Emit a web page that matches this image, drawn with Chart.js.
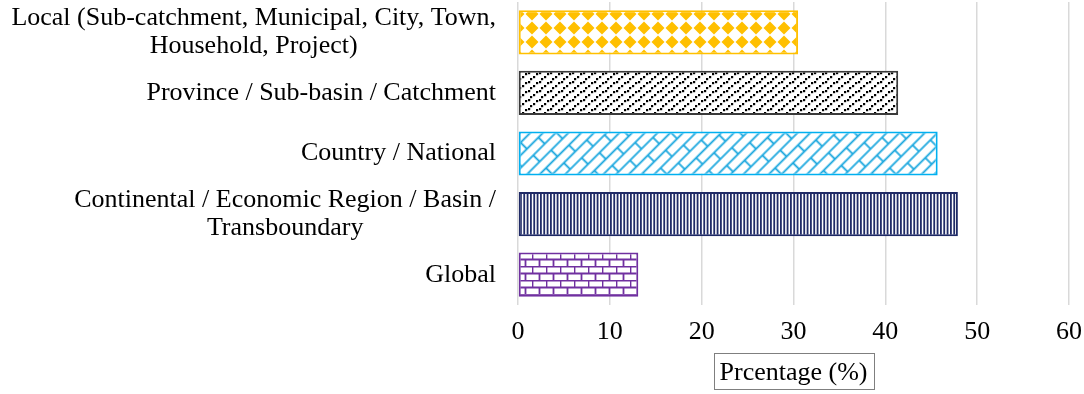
<!DOCTYPE html>
<html>
<head>
<meta charset="utf-8">
<script src="https://cdn.jsdelivr.net/npm/chart.js@4"></script>
<style>
  body { margin: 0; background: #fff; }
  #wrap { width: 1084px; height: 394px; }
</style>
</head>
<body>
<div id="wrap"><canvas id="scale-chart"></canvas></div>
<script>
  // Daten
  const categories = [
    ["Local (Sub-catchment, Municipal, City, Town,", "Household, Project)"],
    "Province / Sub-basin / Catchment",
    "Country / National",
    ["Continental / Economic Region / Basin /", "Transboundary"],
    "Global"
  ];
  const values = [30.5, 41.4, 45.7, 47.9, 13.1];
  const xTicks = [0, 10, 20, 30, 40, 50, 60];
  const axisTitle = "Prcentage (%)";

  const FONT = '"Liberation Serif", "Times New Roman", serif';

  // Muster
  function makePattern(w, h, draw) {
    const c = document.createElement("canvas");
    c.width = w;
    c.height = h;
    const g = c.getContext("2d");
    g.fillStyle = "#fff";
    g.fillRect(0, 0, w, h);
    draw(g);
    return document.createElement("canvas").getContext("2d").createPattern(c, "repeat");
  }

  const diamonds = makePattern(14, 14, function(g) {
    g.fillStyle = "#FFC000";
    const pts = [[0, 0], [14, 0], [0, 14], [14, 14]];
    pts.forEach(function(p) {
      g.beginPath();
      g.moveTo(p[0], p[1] - 6.5);
      g.lineTo(p[0] + 6.5, p[1]);
      g.lineTo(p[0], p[1] + 6.5);
      g.lineTo(p[0] - 6.5, p[1]);
      g.closePath();
      g.fill();
    });
  });

  const dots = makePattern(11, 9, function(g) {
    g.fillStyle = "#000";
    g.fillRect(0, 0, 2.2, 2.2);
    g.fillRect(5, 4, 2.2, 2.2);
    g.fillRect(8, 1, 2.2, 2.2);
    g.fillRect(2, 6, 2.2, 2.2);
  });

  const diagBrick = makePattern(18, 10, function(g) {
    g.strokeStyle = "#1AA7DE";
    g.lineWidth = 1;
    g.beginPath();
    g.moveTo(0, 0.5); g.lineTo(18, 0.5);
    g.moveTo(0, 5.5); g.lineTo(18, 5.5);
    g.moveTo(4.5, 0.5); g.lineTo(4.5, 5.5);
    g.moveTo(13.5, 5.5); g.lineTo(13.5, 10);
    g.stroke();
  });
  diagBrick.setTransform(new DOMMatrix().rotate(-45).scale(1.8));

  const stripes = makePattern(10, 4, function(g) {
    g.fillStyle = "#1F2A66";
    g.fillRect(0, 0, 1.8, 4);
    g.fillRect(3.33, 0, 1.8, 4);
    g.fillRect(6.67, 0, 1.8, 4);
  });

  const brick = makePattern(14, 14, function(g) {
    g.strokeStyle = "#7030A0";
    g.lineWidth = 1.8;
    g.beginPath();
    g.moveTo(0, 0.5); g.lineTo(14, 0.5);
    g.moveTo(0, 7.5); g.lineTo(14, 7.5);
    g.moveTo(0.5, 0.5); g.lineTo(0.5, 7.5);
    g.moveTo(7.5, 7.5); g.lineTo(7.5, 14);
    g.stroke();
  });

  const fills = [diamonds, dots, diagBrick, stripes, brick];
  const borders = ["#FFC000", "#3a3a3a", "#00B0F0", "#1F2A66", "#7030A0"];

  // Beschriftung links + Achsentitel mit Rahmen
  const labelPlugin = {
    id: "labelPlugin",
    afterDraw: function(chart) {
      const ctx = chart.ctx;
      const yScale = chart.scales.y;
      const area = chart.chartArea;
      ctx.save();
      ctx.font = "26px " + FONT;
      ctx.fillStyle = "#000";
      ctx.textAlign = "center";
      ctx.textBaseline = "middle";
      const right = area.left - 22;
      const lineH = 28;
      categories.forEach(function(label, i) {
        const lines = Array.isArray(label) ? label : [label];
        let maxW = 0;
        lines.forEach(function(l) { maxW = Math.max(maxW, ctx.measureText(l).width); });
        const cx = right - maxW / 2;
        const y0 = yScale.getPixelForTick(i) - (lines.length - 1) * lineH / 2;
        lines.forEach(function(l, j) { ctx.fillText(l, cx, y0 + j * lineH); });
      });

      const tx = (area.left + area.right) / 2;
      const tw = ctx.measureText(axisTitle).width;
      ctx.fillText(axisTitle, tx, 373);
      ctx.strokeStyle = "#7f7f7f";
      ctx.lineWidth = 1;
      ctx.strokeRect(Math.round(tx - tw / 2 - 6) + 0.5, 353.5, Math.round(tw + 12), 36);
      ctx.restore();
    }
  };

  const data = {
    labels: categories,
    datasets: [{
      data: values,
      backgroundColor: fills,
      borderColor: borders,
      borderWidth: 2,
      borderSkipped: false,
      barPercentage: 0.73,
      categoryPercentage: 1
    }]
  };

  const options = {
    indexAxis: "y",
    responsive: true,
    maintainAspectRatio: false,
    animation: false,
    layout: {
      padding: { top: 2, right: 15, left: 0, bottom: 0 }
    },
    scales: {
      x: {
        min: 0,
        max: 60,
        afterBuildTicks: function(scale) {
          scale.ticks = xTicks.map(function(v) { return { value: v }; });
        },
        afterFit: function(scale) {
          scale.height = 89;
          scale.paddingRight = 15;
        },
        ticks: {
          color: "#000",
          padding: 12,
          font: { family: FONT, size: 26 }
        },
        grid: {
          color: "#d9d9d9",
          lineWidth: 1.5,
          drawTicks: false
        },
        border: { display: false }
      },
      y: {
        afterFit: function(scale) { scale.width = 518; },
        ticks: { display: false },
        grid: { display: false },
        border: { display: false }
      }
    },
    plugins: {
      legend: { display: false },
      tooltip: { enabled: false }
    }
  };

  const ctx = document.getElementById("scale-chart").getContext("2d");
  new Chart(ctx, {
    type: "bar",
    data: data,
    options: options,
    plugins: [labelPlugin]
  });
</script>
</body>
</html>
